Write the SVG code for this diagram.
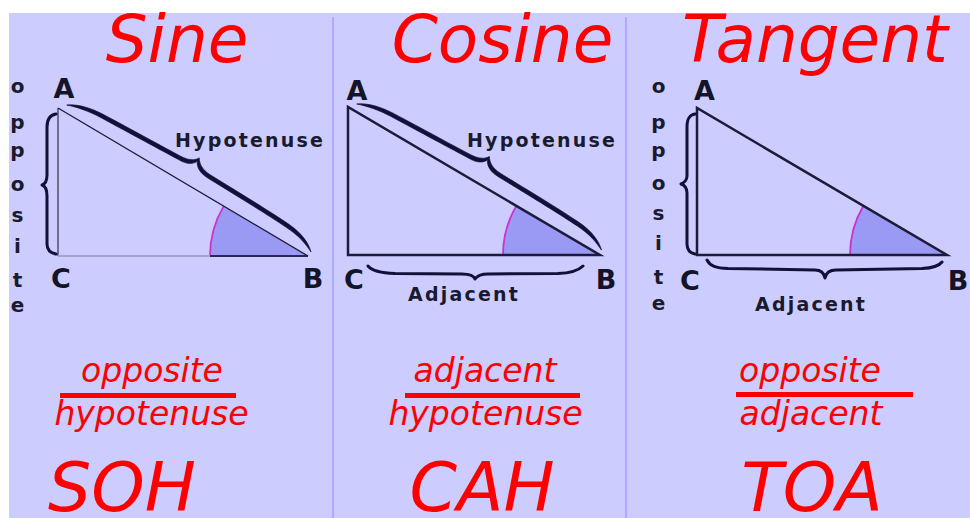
<svg xmlns="http://www.w3.org/2000/svg" width="970" height="518" viewBox="0 0 970 518">
<style>
.title{font-family:"DejaVu Sans","Verdana",sans-serif;font-style:italic;font-size:66px;fill:#ff0000;text-anchor:middle}
.frac{font-family:"DejaVu Sans","Verdana",sans-serif;font-style:italic;font-size:33px;fill:#ff0000;text-anchor:middle}
.abbr{font-family:"DejaVu Sans","Verdana",sans-serif;font-style:italic;font-size:68px;fill:#ff0000;text-anchor:middle}
.vx{font-family:"DejaVu Sans","Verdana",sans-serif;font-weight:bold;font-size:27px;fill:#141428;text-anchor:middle}
.lbl{font-family:"DejaVu Sans","Verdana",sans-serif;font-weight:bold;font-size:19px;fill:#1a1a2e;letter-spacing:2.2px}
.vl{font-family:"DejaVu Sans","Verdana",sans-serif;font-weight:bold;font-size:20px;fill:#1a1a2e;text-anchor:middle}
.side{fill:none;stroke:#1c1c3a;stroke-width:2.5}
.wedge{fill:#9a9af4;stroke:none}
.arc{fill:none;stroke:#cc33cc;stroke-width:1.8}
.brace{fill:none;stroke:#101038;stroke-width:3;stroke-linecap:round;stroke-linejoin:round}
.hb{fill:#101038;stroke:#101038;stroke-width:0.6}
.div{stroke:#a0a0ff;stroke-width:1.5}
.bar{fill:#ff0000}
</style>
<defs>
<path id="hypBrace" d="M6,-7 C14,-13 26,-16.5 42,-17.5 C75,-19 110,-20 130,-21 C139,-21.5 144,-24 147,-29 C150,-24 155,-20.5 165,-20 C195,-19.5 235,-19 258,-17.5 C274,-16.5 285,-11 291,-5 C283,-9 272,-13 258,-13.5 C235,-15 195,-15.5 165,-16 C156,-16.3 150,-19 147,-25 C144,-19 138,-17 130,-17 C110,-16.2 75,-14.8 42,-13.6 C28,-13 16,-10.5 6,-7 Z"/>
</defs>
<rect x="0" y="0" width="970" height="518" fill="#ffffff"/>
<rect x="9" y="13" width="961" height="505" fill="#ccccff"/>
<g id="dividers">
<line class="div" x1="333" y1="17" x2="333" y2="518"/>
<line class="div" x1="626" y1="17" x2="626" y2="518"/>
</g>

<g id="sine-panel">
<text class="title" x="177" y="62">Sine</text>
<g id="sine-triangle">
<path class="wedge" d="M308,256 L210,256 A98,98 0 0 1 223.7,206.1 Z"/>
<path class="arc" d="M210,256 A98,98 0 0 1 223.7,206.1"/>
<line x1="58" y1="108" x2="58" y2="256" stroke="#6e6e90" stroke-width="2"/>
<line x1="58" y1="256" x2="210" y2="256" stroke="#a4a4c8" stroke-width="2"/>
<line x1="210" y1="256" x2="308" y2="256" stroke="#2a2a50" stroke-width="2"/>
<line x1="58" y1="108" x2="308" y2="256" stroke="#1c1c3a" stroke-width="1.4"/>
</g>
<use href="#hypBrace" class="hb" transform="translate(58,108) rotate(30.62)"/>
<path class="brace" d="M56,114 C50,115 47,119 47,127 L47,175 C47,180 45,184 42,185 C45,186 47,190 47,196 L47,244 C47,250 50,253 56,254"/>
<text class="vx" x="64" y="98">A</text>
<text class="vx" x="61" y="288">C</text>
<text class="vx" x="313" y="288">B</text>
<text class="lbl" x="175" y="147">Hypotenuse</text>
<g id="sine-opposite-label">
<text class="vl" x="17.5" y="93">o</text>
<text class="vl" x="17.5" y="129">p</text>
<text class="vl" x="17.5" y="157">p</text>
<text class="vl" x="17.5" y="191">o</text>
<text class="vl" x="17.5" y="222">s</text>
<text class="vl" x="17.5" y="253">i</text>
<text class="vl" x="17.5" y="287">t</text>
<text class="vl" x="17.5" y="312">e</text>
</g>
<text class="frac" x="152" y="382">opposite</text>
<rect class="bar" x="60" y="393" width="176" height="5"/>
<text class="frac" x="151.5" y="425">hypotenuse</text>
<text class="abbr" x="122" y="511">SOH</text>
</g>

<g id="cosine-panel">
<text class="title" x="502.5" y="62">Cosine</text>
<g id="cosine-triangle">
<path class="wedge" d="M600,255 L503,255 A97,97 0 0 1 516.3,205.9 Z"/>
<path class="arc" d="M503,255 A97,97 0 0 1 516.3,205.9"/>
<path class="side" d="M348,107 L348,255 L600,255 Z"/>
</g>
<use href="#hypBrace" class="hb" transform="translate(348,107) rotate(30.43)"/>
<path class="brace" d="M368,266 C372,271 380,273 395,273.5 L462,274 C470,274 474,276 475,279 C477,276 480,274 488,274 L558,273.5 C572,273 579,270 583,266"/>
<text class="vx" x="357" y="100">A</text>
<text class="vx" x="354" y="289">C</text>
<text class="vx" x="606" y="289">B</text>
<text class="lbl" x="467" y="147">Hypotenuse</text>
<text class="lbl" x="408" y="301">Adjacent</text>
<text class="frac" x="485" y="382">adjacent</text>
<rect class="bar" x="405" y="393" width="175" height="5"/>
<text class="frac" x="485.5" y="425">hypotenuse</text>
<text class="abbr" x="482" y="511">CAH</text>
</g>

<g id="tangent-panel">
<text class="title" x="815" y="62">Tangent</text>
<g id="tangent-triangle">
<path class="wedge" d="M947,255 L850,255 A97,97 0 0 1 863.4,205.8 Z"/>
<path class="arc" d="M850,255 A97,97 0 0 1 863.4,205.8"/>
<path class="side" d="M697,108 L697,255 L947,255 Z"/>
</g>
<path class="brace" d="M695,114 C689,115 687,119 687,127 L687,176 C687,180 684,183 681,184 C684,185 687,188 687,193 L687,244 C687,250 690,253 695,254"/>
<path class="brace" d="M707,260 C710,266 716,268 728,268.5 L815,270 C821,270 824,273 825,278 C826,273 829,270 836,270 L922,268.5 C933,268 939,266 942,262"/>
<text class="vx" x="704.5" y="100">A</text>
<text class="vx" x="690" y="290">C</text>
<text class="vx" x="958" y="290">B</text>
<text class="lbl" x="755" y="311">Adjacent</text>
<g id="tangent-opposite-label">
<text class="vl" x="658.5" y="93">o</text>
<text class="vl" x="658.5" y="129">p</text>
<text class="vl" x="658.5" y="157">p</text>
<text class="vl" x="658.5" y="190">o</text>
<text class="vl" x="658.5" y="220">s</text>
<text class="vl" x="658.5" y="250">i</text>
<text class="vl" x="658.5" y="284">t</text>
<text class="vl" x="658.5" y="310">e</text>
</g>
<text class="frac" x="810" y="382">opposite</text>
<rect class="bar" x="736" y="392" width="177" height="5"/>
<text class="frac" x="811" y="425">adjacent</text>
<text class="abbr" x="812" y="511">TOA</text>
</g>
</svg>
